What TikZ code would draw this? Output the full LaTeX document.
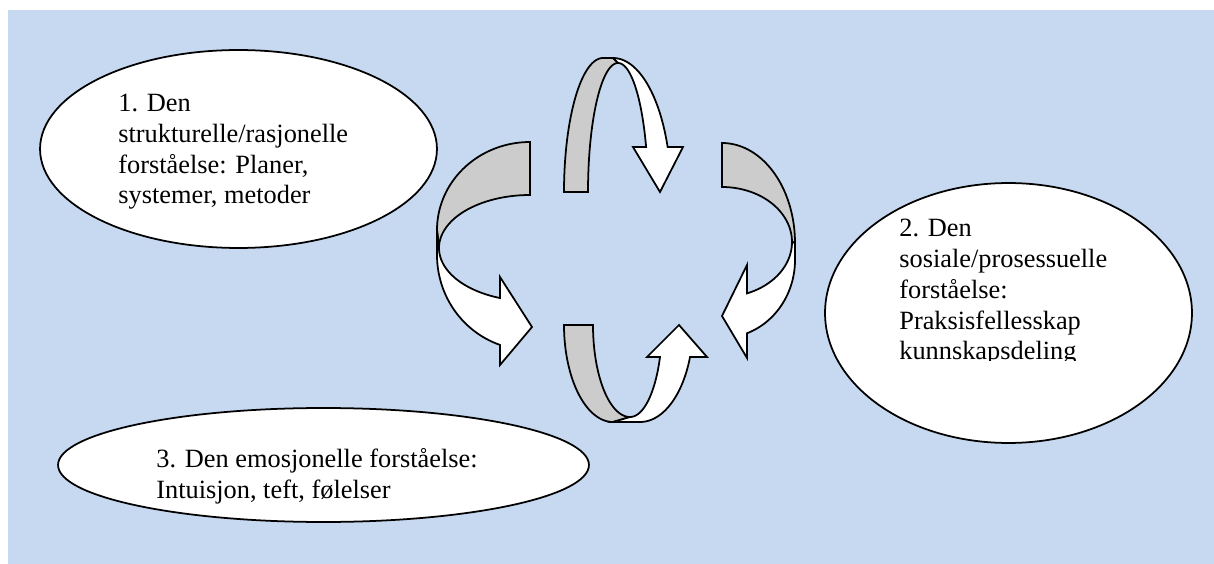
\documentclass[tikz,border=0pt]{standalone}
\usepackage{fontspec}
\setmainfont{Liberation Serif}
\usetikzlibrary{shapes}
\definecolor{bakgrunn}{RGB}{198,217,240}
\definecolor{gra}{RGB}{204,204,204}

\begin{document}
\begin{tikzpicture}[x=0.02cm, y=-0.02cm,
  boble/.style={draw, ellipse, fill=white, line width=1pt, inner sep=0pt},
  tekst/.style={align=left, inner sep=0pt, anchor=north west, font=\fontsize{15pt}{17.5pt}\selectfont},
  bakside/.style={draw, fill=gra, line width=1pt},
  forside/.style={draw, fill=white, line width=1pt}]
\useasboundingbox (0,0) rectangle (1214,564);
\fill[white] (0,0) rectangle (1214,564);
\fill[bakgrunn] (8,10) rectangle (1214,564);

\node[boble, minimum width=7.94cm, minimum height=3.96cm] (rasjonell) at (238.5,149) {};
\node[tekst] (rasjonelltekst) at (118,94) {1. Den\\ strukturelle/rasjonelle\\ forståelse: Planer,\\ systemer, metoder};

\node[boble, minimum width=7.34cm, minimum height=5.2cm] (sosial) at (1008.5,313) {};
\begin{scope}
\clip (880,200) rectangle (1180,360);
\node[tekst] (sosialtekst) at (899,219) {2. Den\\ sosiale/prosessuelle\\ forståelse:\\ Praksisfellesskap\\ kunnskapsdeling};
\end{scope}

\node[boble, minimum width=10.62cm, minimum height=2.28cm] (emosjonell) at (323.5,465) {};
\node[tekst] (emosjonelltekst) at (156,448) {3. Den emosjonelle forståelse:\\ Intuisjon, teft, følelser};

% top
\filldraw[bakside] plot[domain=180:90, samples=40] ({603+39*cos(\x)},{192-134*sin(\x)}) -- (613,58) -- (618,63)
  -- plot[domain=90:180, samples=40] ({618+30*cos(\x)},{192-129*sin(\x)}) -- cycle;
\filldraw[forside] (613,58) -- plot[domain=90:19.6, samples=40] ({613+58*cos(\x)},{192-134*sin(\x)})
  -- (683,147) -- (660,192) -- (633,147)
  -- plot[domain=20.4:90, samples=40] ({618+30*cos(\x)},{192-129*sin(\x)}) -- cycle;

% left
\filldraw[bakside] plot[domain=90:180, samples=40] ({530+93*cos(\x)},{230-88*sin(\x)})
  -- plot[domain=180:90, samples=40] ({530+91*cos(\x)},{248-53*sin(\x)}) -- cycle;
\filldraw[forside] (437,230) -- plot[domain=180:251.2, samples=40] ({530+93*cos(\x)},{255-95*sin(\x)})
  -- (500,365) -- (532,327) -- (500,277)
  -- plot[domain=250.7:180, samples=40] ({530+91*cos(\x)},{248-53*sin(\x)}) -- cycle;

% right
\filldraw[bakside] plot[domain=90:0, samples=40] ({722+73*cos(\x)},{243-100*sin(\x)})
  -- plot[domain=0:90, samples=40] ({722+70*cos(\x)},{242-55*sin(\x)}) -- cycle;
\filldraw[forside] (795,243) -- plot[domain=0:-70, samples=40] ({722+73*cos(\x)},{260-78*sin(\x)})
  -- (747,358) -- (722,316) -- (747,265)
  -- plot[domain=-69:0, samples=40] ({722+70*cos(\x)},{242-55*sin(\x)}) -- cycle;

% bottom
\filldraw[bakside] plot[domain=180:270, samples=40] ({613+49*cos(\x)},{325-97*sin(\x)})
  -- plot[domain=270:180, samples=40] ({630+37*cos(\x)},{325-92*sin(\x)}) -- cycle;
\filldraw[forside] (613,422) -- plot[domain=270:340.7, samples=40] ({640+53*cos(\x)},{325-97*sin(\x)})
  -- (707,357) -- (679,325) -- (647,357)
  -- plot[domain=339.6:270, samples=40] ({630+32*cos(\x)},{325-92*sin(\x)}) -- cycle;

\end{tikzpicture}
\end{document}
